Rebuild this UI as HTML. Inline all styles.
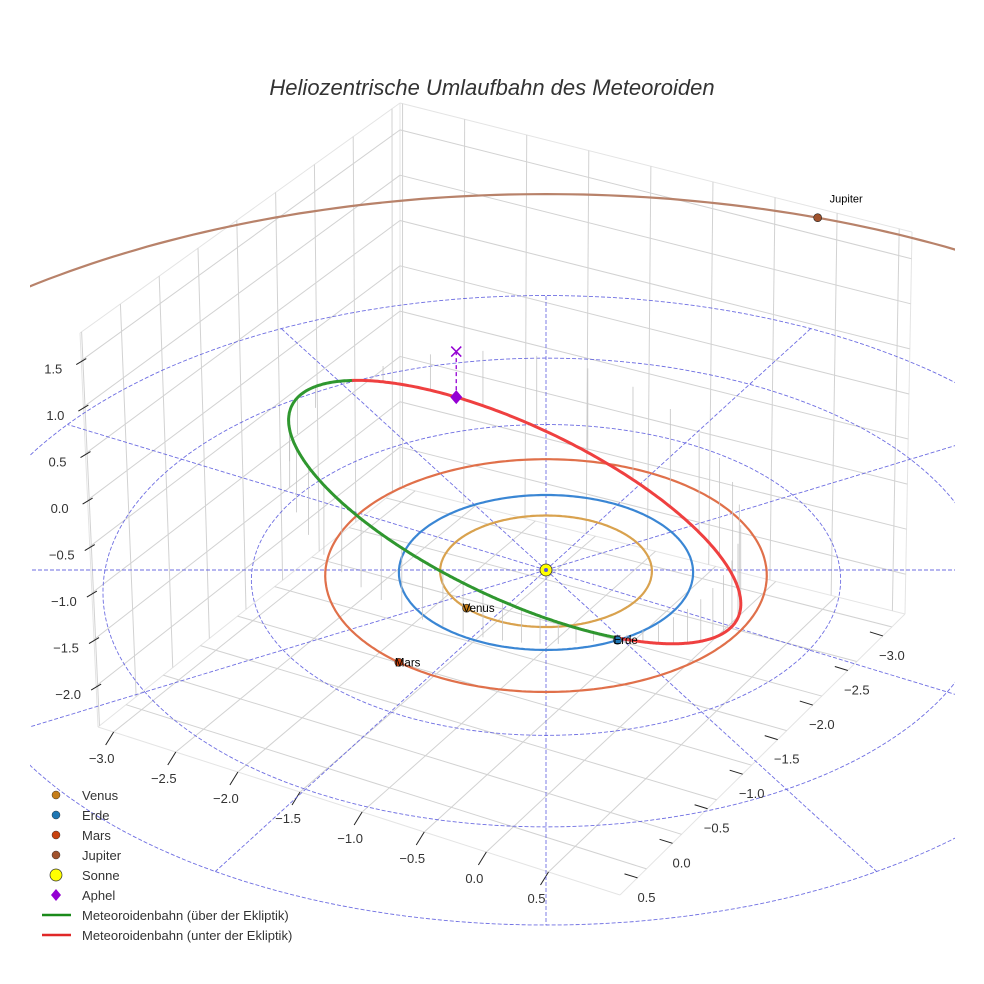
<!DOCTYPE html>
<html><head><meta charset="utf-8">
<style>
html,body{margin:0;padding:0;background:#fff;overflow:hidden;}
svg{display:block;font-family:"Liberation Sans",sans-serif;}
</style></head>
<body>
<svg id="chart" width="984" height="984" viewBox="0 0 984 984" xmlns="http://www.w3.org/2000/svg">
<defs><clipPath id="clip"><rect x="30" y="0" width="925" height="955"/></clipPath></defs>
<rect width="984" height="984" fill="#fff"/>
<text x="492" y="95" text-anchor="middle" font-size="22" font-style="italic" fill="#333">Heliozentrische Umlaufbahn des Meteoroiden</text>
<g id="box"></g>
<g id="plot" clip-path="url(#clip)"></g>
<g id="labels"></g>
<g id="legend"></g>
</svg>
<script>
// ---- data ----
const xTicks = [-3.0,-2.5,-2.0,-1.5,-1.0,-0.5,0.0,0.5];
const yTicks = [-3.0,-2.5,-2.0,-1.5,-1.0,-0.5,0.0,0.5];
const zTicks = [1.5,1.0,0.5,0.0,-0.5,-1.0,-1.5,-2.0];
const gridRings = [1,2,3,4];
const gridAngles = [0,30,60,90,120,150,180,210,240,270,300,330];
const planetNames = ["Venus","Erde","Mars","Jupiter"];
const orbitRadii = [0.72,1.0,1.5,5.75];
const planetAngles = [-137.6,-61.8,-130,67.9];
const orbitColors = ["#d9a24e","#3a86d4","#e0704a","#b8826a"];
const markerColors = ["#c57d19","#1f77b4","#c8420f","#a0522d"];
const meteorA = [2.08];
const meteorE = [0.544];
const meteorP = [0.209,-0.966,0.156];
const meteorQ = [0.877,0.12,-0.467];

// ---- projection ----
const CX=546, CY=570, SX=147, SY=77.4, SZ=100, PERSP=0.032;
function proj(X,Y,Z){const w=1+PERSP*Y;return [CX+SX*X/w, CY-(SY*Y+SZ*Z)/w];}
const NS="http://www.w3.org/2000/svg";
function mk(parent,tag,attrs){const e=document.createElementNS(NS,tag);for(const k in attrs)e.setAttribute(k,attrs[k]);parent.appendChild(e);return e;}
function pts(arr){return arr.map(p=>p[0].toFixed(1)+","+p[1].toFixed(1)).join(" ");}
const box=document.getElementById('box'), plot=document.getElementById('plot'), lab=document.getElementById('labels'), leg=document.getElementById('legend');
function lerp(a,b,t){return [a[0]+(b[0]-a[0])*t,a[1]+(b[1]-a[1])*t];}

// ---- box (layout corners) ----
const TL=[80,333],TB=[400,103],TR=[912,232],BL=[98,727],BB=[400,487],BR=[905,614],FF=[620,895];
function line(g,a,b,stroke,sw,name){const l=mk(g,'line',{x1:a[0],y1:a[1],x2:b[0],y2:b[1],stroke:stroke,'stroke-width':sw});

return l;}
[[TL,TB],[TB,TR],[TL,BL],[TR,BR],[TB,BB],[BL,BB],[BB,BR],[BL,FF],[BR,FF]].forEach(e=>line(box,e[0],e[1],'#e4e4e4',1,'box-edge'));
function zFrac(z){return 0.07+(1.5-z)/0.5*0.118;}
zTicks.forEach(z=>{const f=zFrac(z);
 line(box,lerp(TL,BL,f),lerp(TB,BB,f),'#d2d2d2',1,'z-grid-line');
 line(box,lerp(TB,BB,f),lerp(TR,BR,f),'#d2d2d2',1,'z-grid-line');});
for(let i=0;i<9;i++){const t=i/8*0.97+0.005;
 line(box,lerp(TL,TB,t),lerp(BL,BB,t),'#d2d2d2',1,'pane-vertical-line');
 line(box,lerp(TB,TR,t),lerp(BB,BR,t),'#d2d2d2',1,'pane-vertical-line');}
function xFrac(v){return 0.03+(v+3.0)/0.5*0.119;}
function yFrac(v){return 0.046+(v+3.0)/0.5*0.123;}
xTicks.forEach(v=>{const t=xFrac(v);const a=lerp(BL,FF,t),b=lerp(BB,BR,t);
 line(box,a,b,'#d2d2d2',1,'x-grid-line');
 line(box,a,[a[0]-8,a[1]+13],'#222',1,'x-tick');
 const tx=mk(lab,'text',{x:a[0]-12,y:a[1]+31,'text-anchor':'middle','font-size':13,fill:'#333'});tx.textContent=v.toFixed(1).replace('-','\u2212');
 
 });
yTicks.forEach(v=>{const t=yFrac(v);const a=lerp(BR,FF,t),b=lerp(BB,BL,t);
 line(box,a,b,'#d2d2d2',1,'y-grid-line');
 line(box,[a[0]-22,a[1]+5],[a[0]-9,a[1]+9],'#222',1,'y-tick');
 const tx=mk(lab,'text',{x:a[0],y:a[1]+33,'text-anchor':'middle','font-size':13,fill:'#333'});tx.textContent=v.toFixed(1).replace('-','\u2212');
 
 });
zTicks.forEach(z=>{const f=zFrac(z);const a=lerp(TL,BL,f);
 line(box,[a[0]-5,a[1]+4],[a[0]+5,a[1]-2],'#222',1,'z-tick');
 const tx=mk(lab,'text',{x:a[0]-28,y:a[1]+13,'text-anchor':'middle','font-size':13,fill:'#333'});tx.textContent=z.toFixed(1).replace('-','\u2212');
 
 });

// ---- ecliptic grid ----
function circlePts(r,n){const a=[];for(let i=0;i<=n;i++){const t=i/n*2*Math.PI;a.push(proj(r*Math.cos(t),r*Math.sin(t),0));}return a;}
gridRings.forEach(r=>{const p=mk(plot,'polyline',{points:pts(circlePts(r,240)),fill:'none',stroke:'#5555dd','stroke-width':0.9,'stroke-dasharray':'4 2',opacity:0.85});
 
 });
const rMax=gridRings[gridRings.length-1];
gridAngles.forEach(a=>{const t=a*Math.PI/180;const seg=[];for(let i=0;i<=40;i++){const r=rMax*i/40;seg.push(proj(r*Math.cos(t),r*Math.sin(t),0));}
 const p=mk(plot,'polyline',{points:pts(seg),fill:'none',stroke:'#5555dd','stroke-width':0.9,'stroke-dasharray':'4 2',opacity:0.85});
 
 });

// ---- planet orbits ----
planetNames.forEach((n,i)=>{const p=mk(plot,'polyline',{points:pts(circlePts(orbitRadii[i],360)),fill:'none',stroke:orbitColors[i],'stroke-width':2.2});
 
 });

// ---- meteoroid orbit ----
function meteor(nuDeg){const nu=nuDeg*Math.PI/180;const a=meteorA[0],e=meteorE[0];const r=a*(1-e*e)/(1+e*Math.cos(nu));
 const c=Math.cos(nu),s=Math.sin(nu);return [0,1,2].map(k=>r*(c*meteorP[k]+s*meteorQ[k]));}
for(let d=0;d<360;d+=8){const m=meteor(d);const a=proj(m[0],m[1],m[2]),b=proj(m[0],m[1],0);
 const l=mk(plot,'line',{x1:a[0],y1:a[1],x2:b[0],y2:b[1],stroke:'#c4c4c4','stroke-width':0.8});
 
 }
const segs=[];let cur=null;
for(let d=0;d<=720;d++){const m=meteor(d*0.5);const p=proj(m[0],m[1],m[2]);const sg=m[2]>=0;
 if(!cur||cur.sign!==sg){if(cur)cur.pts.push(p);cur={sign:sg,pts:[]};segs.push(cur);}
 cur.pts.push(p);}
segs.forEach(s=>{const p=mk(plot,'polyline',{points:pts(s.pts),fill:'none',stroke:s.sign?'#2f972f':'#ef4040','stroke-width':3,'stroke-linecap':'round'});
 
 });

// ---- aphelion ----
const aph=meteor(180);const ap=proj(aph[0],aph[1],aph[2]);const ap0=proj(aph[0],aph[1],0);
const al=mk(plot,'line',{x1:ap[0],y1:ap[1],x2:ap0[0],y2:ap0[1],stroke:'#9400d3','stroke-width':1.3,'stroke-dasharray':'4 3'});


const ax=mk(plot,'path',{d:`M${ap0[0]-5},${ap0[1]-5}L${ap0[0]+5},${ap0[1]+5}M${ap0[0]-5},${ap0[1]+5}L${ap0[0]+5},${ap0[1]-5}`,stroke:'#9400d3','stroke-width':1.5});


const ad=mk(plot,'path',{d:`M${ap[0]},${ap[1]-7}L${ap[0]+6},${ap[1]}L${ap[0]},${ap[1]+7}L${ap[0]-6},${ap[1]}Z`,fill:'#9400d3'});



// ---- planets ----
planetNames.forEach((n,i)=>{const t=planetAngles[i]*Math.PI/180;const p=proj(orbitRadii[i]*Math.cos(t),orbitRadii[i]*Math.sin(t),0);
 const c=mk(plot,'circle',{cx:p[0],cy:p[1],r:4,fill:markerColors[i],stroke:'#222','stroke-width':0.6});
 
 
 const isJ=n==="Jupiter";
 const tx=mk(lab,'text',{x:isJ?p[0]+12:p[0]-4,y:isJ?p[1]-15:p[1]+4,'font-size':isJ?11:11.5,fill:'#000'});tx.textContent=n;
 
 });
const sp=proj(0,0,0);
const sun=mk(plot,'circle',{cx:sp[0],cy:sp[1],r:6,fill:'#ffff00',stroke:'#333','stroke-width':0.8});


const sun2=mk(plot,'circle',{cx:sp[0],cy:sp[1],r:2,fill:'#5555dd'});



// ---- legend ----
const legNames=["Venus","Erde","Mars","Jupiter","Sonne","Aphel","Meteoroidenbahn (über der Ekliptik)","Meteoroidenbahn (unter der Ekliptik)"];
legNames.forEach((n,i)=>{const y=795+i*20;let m;
 if(i<4){m=mk(leg,'circle',{cx:56,cy:y,r:4,fill:markerColors[i],stroke:'#333','stroke-width':0.5});}
 else if(i===4){m=mk(leg,'circle',{cx:56,cy:y,r:6,fill:'#ffff00',stroke:'#333','stroke-width':0.7});}
 else if(i===5){m=mk(leg,'path',{d:`M56,${y-6}L61,${y}L56,${y+6}L51,${y}Z`,fill:'#9400d3'});}
 else{m=mk(leg,'line',{x1:42,y1:y,x2:71,y2:y,stroke:i===6?'#1a8a1a':'#e02828','stroke-width':2.5});}
 
 
 const tx=mk(leg,'text',{x:82,y:y+5,'font-size':13,fill:'#333'});tx.textContent=n;
 
 });
</script>
</body></html>
